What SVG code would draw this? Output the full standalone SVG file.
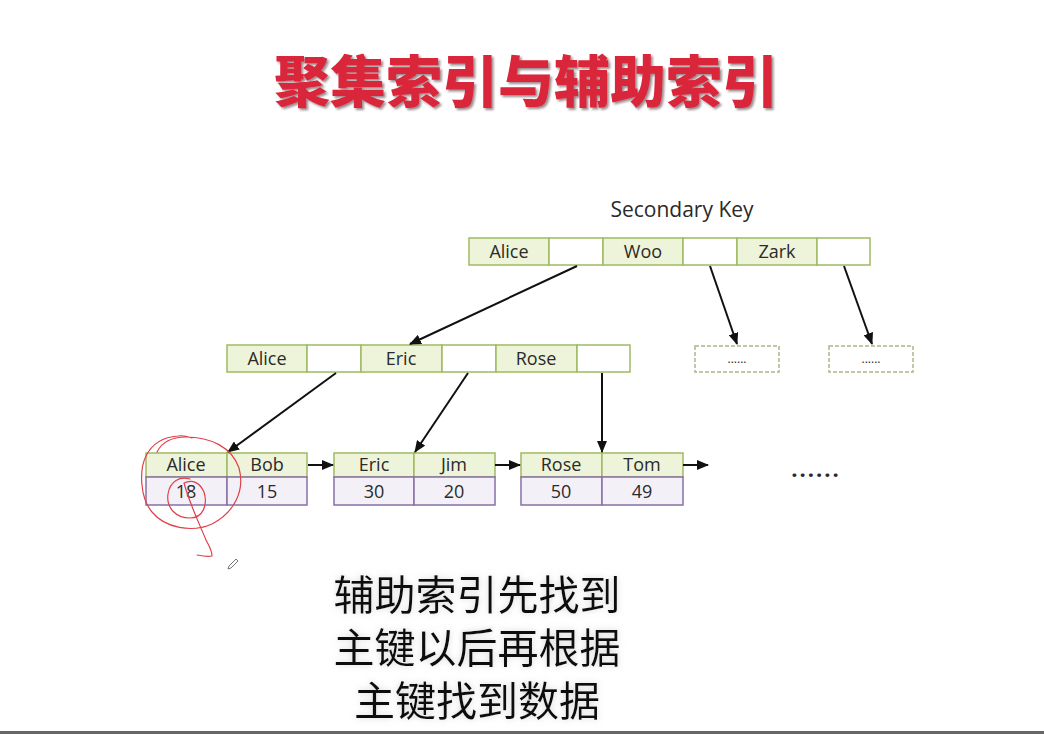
<svg xmlns="http://www.w3.org/2000/svg" width="1044" height="734" viewBox="0 0 1044 734">
  <defs>
    <marker id="arrow" viewBox="0 0 12 10" refX="11" refY="5" markerWidth="12" markerHeight="10" markerUnits="userSpaceOnUse" orient="auto">
      <path d="M0,0 L12,5 L0,10 Z" fill="#111"/>
    </marker>
    <!-- soft grey glow behind dark text -->
    <filter id="halo" x="-10%" y="-30%" width="120%" height="160%">
      <feGaussianBlur in="SourceAlpha" stdDeviation="3" result="b"/>
      <feFlood flood-color="#b0b0b0" flood-opacity="0.55"/>
      <feComposite in2="b" operator="in" result="g"/>
      <feMerge><feMergeNode in="g"/><feMergeNode in="SourceGraphic"/></feMerge>
    </filter>
    <!-- thin dark edge on the heading -->
    <filter id="edge" x="-5%" y="-20%" width="110%" height="140%">
      <feGaussianBlur in="SourceAlpha" stdDeviation="0.8" result="b"/>
      <feOffset dx="1.5" dy="1.5" result="o"/>
      <feFlood flood-color="#3a1a1e" flood-opacity="0.5"/>
      <feComposite in2="o" operator="in" result="s"/>
      <feMerge><feMergeNode in="s"/><feMergeNode in="SourceGraphic"/></feMerge>
    </filter>
    <style>
      .key { fill: #eef4d9; stroke: #9fba62; stroke-width: 1.5; }
      .ptr { fill: #ffffff; stroke: #9fba62; stroke-width: 1.5; }
      .val { fill: #f4f0f8; stroke: #8670a6; stroke-width: 1.5; }
      .stub { fill: #ffffff; stroke: #a9b98a; stroke-width: 1.5; stroke-dasharray: 4 2; }
      .lbl { font-family: "Open Sans", "Noto Sans", sans-serif; font-size: 18px; fill: #2a2a2a; text-anchor: middle; }
      .edge { fill: none; stroke: #111; stroke-width: 2; marker-end: url(#arrow); }
      .title { font-family: "Noto Sans CJK SC", sans-serif; font-weight: 900; font-size: 56px; text-anchor: middle; fill: #d9253b; }
      .note { font-family: "Noto Sans CJK SC", sans-serif; font-weight: 400; font-size: 41px; text-anchor: middle; fill: #111; }
      .ink { fill: none; stroke: #e0404a; stroke-width: 1.2; stroke-linecap: round; stroke-linejoin: round; }
    </style>
  </defs>

  <rect width="1044" height="734" fill="#ffffff"/>

  <!-- heading -->
  <g id="title">
    <text class="title" x="526" y="102" filter="url(#edge)">聚集索引与辅助索引</text>
  </g>

  <text class="lbl" x="682" y="217" style="font-size:21px">Secondary Key</text>

  <!-- root node of the secondary index -->
  <g id="root">
    <rect class="key" x="469" y="238" width="80" height="27"/>
    <rect class="ptr" x="549" y="238" width="54" height="27"/>
    <rect class="key" x="603" y="238" width="80" height="27"/>
    <rect class="ptr" x="683" y="238" width="54" height="27"/>
    <rect class="key" x="737" y="238" width="80" height="27"/>
    <rect class="ptr" x="817" y="238" width="53" height="27"/>
    <text class="lbl" x="509" y="258">Alice</text>
    <text class="lbl" x="643" y="258">Woo</text>
    <text class="lbl" x="777" y="258">Zark</text>
  </g>

  <!-- internal node -->
  <g id="inner">
    <rect class="key" x="227" y="345" width="80" height="27"/>
    <rect class="ptr" x="307" y="345" width="54" height="27"/>
    <rect class="key" x="361" y="345" width="81" height="27"/>
    <rect class="ptr" x="442" y="345" width="54" height="27"/>
    <rect class="key" x="496" y="345" width="81" height="27"/>
    <rect class="ptr" x="577" y="345" width="53" height="27"/>
    <text class="lbl" x="267" y="365">Alice</text>
    <text class="lbl" x="401" y="365">Eric</text>
    <text class="lbl" x="536" y="365">Rose</text>
  </g>

  <!-- collapsed subtrees -->
  <g id="stub1">
    <rect class="stub" x="695" y="346" width="84" height="26"/>
    <text class="lbl" x="737" y="363" style="font-size:12px">......</text>
  </g>
  <g id="stub2">
    <rect class="stub" x="829" y="346" width="84" height="26"/>
    <text class="lbl" x="871" y="363" style="font-size:12px">......</text>
  </g>

  <!-- leaf pages: key row + primary key row -->
  <g id="leaf1">
    <rect class="key" x="146" y="453" width="81" height="24"/>
    <rect class="key" x="227" y="453" width="80" height="24"/>
    <rect class="val" x="146" y="477" width="81" height="28"/>
    <rect class="val" x="227" y="477" width="80" height="28"/>
    <text class="lbl" x="186" y="471">Alice</text>
    <text class="lbl" x="267" y="471">Bob</text>
    <text class="lbl" x="186" y="498">18</text>
    <text class="lbl" x="267" y="498">15</text>
  </g>
  <g id="leaf2">
    <rect class="key" x="334" y="453" width="80" height="24"/>
    <rect class="key" x="414" y="453" width="81" height="24"/>
    <rect class="val" x="334" y="477" width="80" height="28"/>
    <rect class="val" x="414" y="477" width="81" height="28"/>
    <text class="lbl" x="374" y="471">Eric</text>
    <text class="lbl" x="454" y="471">Jim</text>
    <text class="lbl" x="374" y="498">30</text>
    <text class="lbl" x="454" y="498">20</text>
  </g>
  <g id="leaf3">
    <rect class="key" x="521" y="453" width="81" height="24"/>
    <rect class="key" x="602" y="453" width="81" height="24"/>
    <rect class="val" x="521" y="477" width="81" height="28"/>
    <rect class="val" x="602" y="477" width="81" height="28"/>
    <text class="lbl" x="561" y="471">Rose</text>
    <text class="lbl" x="642" y="471">Tom</text>
    <text class="lbl" x="561" y="498">50</text>
    <text class="lbl" x="642" y="498">49</text>
  </g>

  <text class="lbl" x="816" y="477" style="font-size:22px;font-weight:bold;letter-spacing:2px">......</text>

  <!-- pointers -->
  <g id="connectors">
    <line class="edge" x1="577" y1="266" x2="410" y2="344"/>
    <line class="edge" x1="710" y1="266" x2="737" y2="344"/>
    <line class="edge" x1="844" y1="266" x2="872" y2="344"/>
    <line class="edge" x1="336" y1="373" x2="228" y2="452"/>
    <line class="edge" x1="468" y1="373" x2="415" y2="452"/>
    <line class="edge" x1="602" y1="373" x2="602" y2="452"/>
    <line class="edge" x1="308" y1="465" x2="333" y2="465"/>
    <line class="edge" x1="495" y1="465" x2="520" y2="465"/>
    <line class="edge" x1="683" y1="465" x2="708" y2="465"/>
  </g>

  <!-- hand-drawn red marks -->
  <g id="ink">
    <path class="ink" d="M157,452 C162,442 172,437 186,437 C210,437 232,447 239,468 C245,490 235,512 212,524 C192,533 165,528 152,512 C140,498 139,470 146,456 C152,444 163,437 178,436 C184,435 189,437 192,438"/>
    <path class="ink" d="M190,479 C180,476 170,481 168,494 C166,508 176,518 190,518 C203,518 208,505 204,492 C200,483 193,479 184,483 C190,505 200,525 206,540 C209,546 212,550 212,556 C208,557 202,556 197,555"/>
    <path d="M229,566 L236,559 L238,561 L231,568 L228,569 Z" fill="none" stroke="#777" stroke-width="1"/>
  </g>

  <!-- explanatory note -->
  <g id="note" filter="url(#halo)">
    <text class="note" x="477" y="610">辅助索引先找到</text>
    <text class="note" x="477" y="663">主键以后再根据</text>
    <text class="note" x="477" y="716">主键找到数据</text>
  </g>

  <rect x="0" y="731" width="1044" height="3" fill="#666"/>
</svg>
